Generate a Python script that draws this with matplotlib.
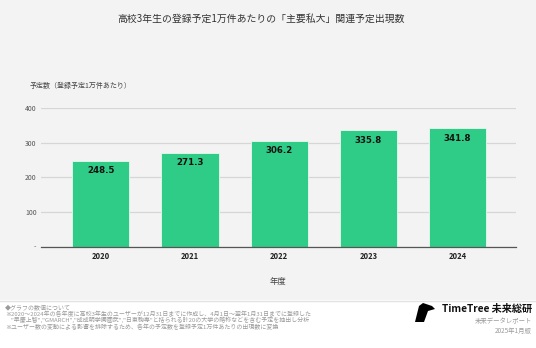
import matplotlib
matplotlib.use("Agg")
import matplotlib.pyplot as plt
from matplotlib.patches import Rectangle, Polygon

plt.rcParams['font.family'] = ['Noto Sans CJK JP', 'DejaVu Sans']

years = ["2020", "2021", "2022", "2023", "2024"]
values = [248.5, 271.3, 306.2, 335.8, 341.8]
yticks = [0, 100, 200, 300, 400]
ytick_labels = ["-", "100", "200", "300", "400"]

title = "高校3年生の登録予定1万件あたりの「主要私大」関連予定出現数"
ylabel = "予定数（登録予定1万件あたり）"
xlabel = "年度"
notes = [
    "◆グラフの数値について",
    "※2020～2024年の各年度に高校3年生のユーザーが12月31日までに作成し、4月1日～翌年1月31日までに登録した",
    "　\"早慶上智\",\"GMARCH\",\"成成明学獨國武\",\"日東駒専\"と括られる計20の大学の略称などを含む予定を抽出し分析",
    "※ユーザー数の変動による影響を排除するため、各年の予定数を登録予定1万件あたりの出現数に変換",
]

W, H = 536, 348
fig = plt.figure(figsize=(W / 100, H / 100), dpi=100)
fig.patch.set_facecolor("white")

# gray chart background panel
bg = Rectangle((0, 1 - 300 / H), 1, 300 / H, transform=fig.transFigure,
               facecolor="#f3f3f3", edgecolor="none", zorder=-10)
fig.add_artist(bg)
sep = plt.Line2D([0, 1], [1 - 300.5 / H] * 2, transform=fig.transFigure,
                 color="#e2e2e2", lw=1.0, zorder=-9)
fig.add_artist(sep)

left, right = 40.7 / W, 516 / W
top_px, bot_px = 108, 246.7
ax = fig.add_axes([left, 1 - bot_px / H, right - left, (bot_px - top_px) / H])
ax.set_zorder(2)
ax.set_facecolor("none")
x = list(range(len(years)))
ax.bar(x, values, width=0.64, color="#2ecc87", edgecolor="#e8f8ef", linewidth=0.6, zorder=3)
ax.set_ylim(0, 400)
ax.set_xlim(-0.674, 4.655)
ax.set_yticks(yticks)
ax.set_yticklabels(ytick_labels, fontsize=5, color="#555555")
ax.set_xticks(x)
ax.set_xticklabels(years, fontsize=5.5, fontweight="bold", color="#222222")
ax.tick_params(axis="both", length=0, pad=3)
ax.tick_params(axis="x", pad=4)
for s in ["top", "right", "left"]:
    ax.spines[s].set_visible(False)
ax.spines["bottom"].set_color("#555555")
ax.spines["bottom"].set_linewidth(0.9)
ax.spines["bottom"].set_zorder(4)
ax.grid(axis="y", color="#d6d6d6", linewidth=0.9, zorder=0)
ax.set_axisbelow(True)

for xi, v in zip(x, values):
    ax.annotate(f"{v:.1f}", (xi, v), xytext=(0, -4), textcoords="offset points",
                ha="center", va="top", fontsize=6.2, fontweight="bold", color="#111111",
                family=["DejaVu Sans"], zorder=5)

fig.text(261.5 / W, 1 - 19 / H, title, ha="center", va="center", fontsize=7.1, color="#333333")
fig.text(30 / W, 1 - 86 / H, ylabel, ha="left", va="center", fontsize=5, color="#444444")
fig.text(278 / W, 1 - 281 / H, xlabel, ha="center", va="center", fontsize=6, color="#444444")

ys = [307.2, 313.7, 320.2, 326.7]
for t, yy in zip(notes, ys):
    fig.text(5 / W, 1 - yy / H, t, ha="left", va="center", fontsize=4.3, color="#9a9a9a")

# logo
logo = Polygon([(415 / W, 1 - 322 / H), (419 / W, 1 - 306 / H), (423 / W, 1 - 303 / H),
                (432 / W, 1 - 306 / H), (435 / W, 1 - 309 / H), (428 / W, 1 - 311 / H),
                (424 / W, 1 - 322 / H)], closed=True, transform=fig.transFigure,
               facecolor="black", edgecolor="none")
fig.add_artist(logo)
fig.text(442 / W, 1 - 309 / H, "TimeTree 未来総研", ha="left", va="center", fontsize=7.3,
         fontweight="bold", color="#111111")
fig.text(532 / W, 1 - 321 / H, "未来データレポート", ha="right", va="center", fontsize=4.6, color="#9a9a9a")
fig.text(532 / W, 1 - 331 / H, "2025年1月版", ha="right", va="center", fontsize=4.6, color="#9a9a9a")

fig.savefig("out.png", dpi=100)
